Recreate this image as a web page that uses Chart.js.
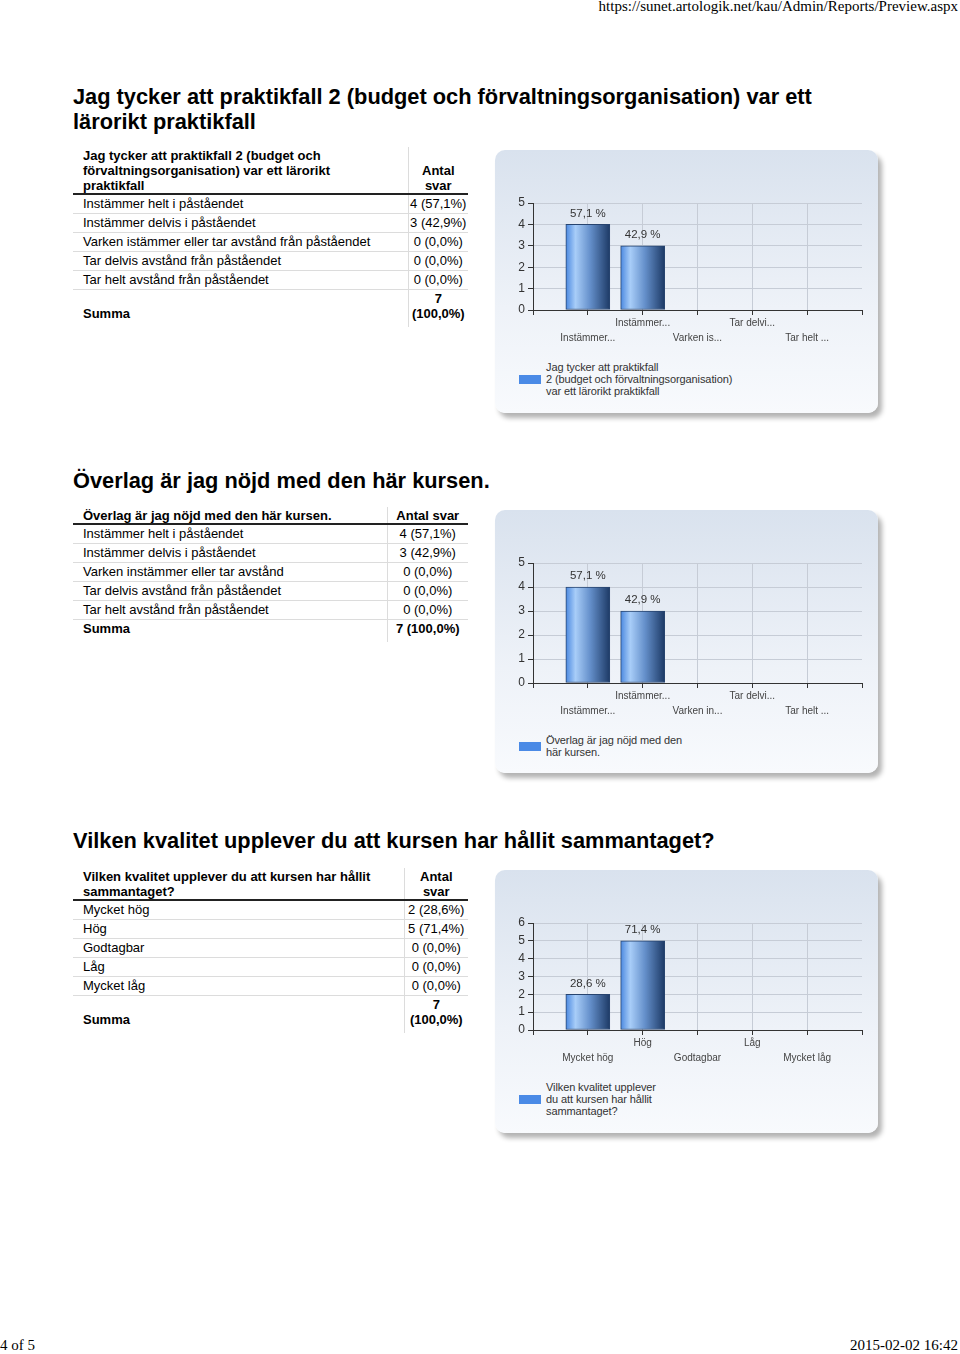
<!DOCTYPE html>
<html>
<head>
<meta charset="utf-8">
<script src="https://cdn.jsdelivr.net/npm/chart.js@4.4.0/dist/chart.umd.min.js"></script>
<style>
  body { margin: 0; width: 960px; height: 1354px; position: relative; overflow: hidden; background: #fff; font-family: "Liberation Sans", Arial, sans-serif; color: #000; }
  .serif { position: absolute; font: 15px/17px "Liberation Serif", "Times New Roman", serif; white-space: nowrap; }
  h2 { position: absolute; left: 73px; margin: 0; font-size: 21.8px; line-height: 25px; font-weight: bold; white-space: nowrap; }
  table { position: absolute; left: 73px; width: 395px; border-collapse: collapse; table-layout: fixed; font-size: 13px; line-height: 15px; }
  td { padding: 1px 0 2px 10px; border-bottom: 1px solid #dcdcdc; vertical-align: bottom; }
  td.c2 { padding: 1px 0 2px 0; text-align: center; border-left: 1px solid #dcdcdc; white-space: nowrap; }
  tr.head td { font-weight: bold; padding-top: 1px; padding-bottom: 0; padding-right: 30px; border-bottom: 2px solid #222; }
  tr.head td.c2 { padding: 1px 6px 0 6px; white-space: normal; }
  tr.sum td { font-weight: bold; border-bottom: none; padding-bottom: 6px; }
  tr.sum td.c2 { white-space: normal; padding-bottom: 6px; }
  .panel { position: absolute; left: 495px; width: 383px; height: 263px; border-radius: 10px;
           background: linear-gradient(#d9e2ee, #eef2f8 60%, #f8fafd); box-shadow: 4px 5px 5px rgba(0,0,0,0.3); }
  .panel canvas { position: absolute; left: 0; top: 0; }
  .legend { position: absolute; left: 24px; font-size: 11px; line-height: 12px; color: #333; letter-spacing: -0.1px; }
  .legend i { position: absolute; left: 0; width: 22px; height: 9px; background: #4a8ae6; }
  .legend span { position: absolute; left: 27px; white-space: nowrap; }
</style>
</head>
<body>
<div class="serif" style="right:2px;top:-2px">https://sunet.artologik.net/kau/Admin/Reports/Preview.aspx</div>
<div class="serif" style="left:0;top:1337px">4 of 5</div>
<div class="serif" style="right:2px;top:1337px">2015-02-02 16:42</div>

<h2 style="top:84px">Jag tycker att praktikfall 2 (budget och förvaltningsorganisation) var ett<br>lärorikt praktikfall</h2>
<table id="t1" style="top:147px"></table>
<div class="panel" id="p1" style="top:150px"><canvas id="c1"></canvas></div>

<h2 style="top:468px">Överlag är jag nöjd med den här kursen.</h2>
<table id="t2" style="top:507px"></table>
<div class="panel" id="p2" style="top:510px"><canvas id="c2"></canvas></div>

<h2 style="top:828px">Vilken kvalitet upplever du att kursen har hållit sammantaget?</h2>
<table id="t3" style="top:868px"></table>
<div class="panel" id="p3" style="top:870px"><canvas id="c3"></canvas></div>

<script>
// question 1
const q1Title = "Jag tycker att praktikfall 2 (budget och förvaltningsorganisation) var ett lärorikt praktikfall";
const q1Answers = ["Instämmer helt i påståendet", "Instämmer delvis i påståendet", "Varken istämmer eller tar avstånd från påståendet", "Tar delvis avstånd från påståendet", "Tar helt avstånd från påståendet"];
const q1Ticks = ["Instämmer...", "Instämmer...", "Varken is...", "Tar delvi...", "Tar helt ..."];
const q1Counts = [4, 3, 0, 0, 0];
const q1Percents = [57.1, 42.9, 0, 0, 0];
const q1Legend = ["Jag tycker att praktikfall", "2 (budget och förvaltningsorganisation)", "var ett lärorikt praktikfall"];
const q1YMax = 5;

// question 2
const q2Title = "Överlag är jag nöjd med den här kursen.";
const q2Answers = ["Instämmer helt i påståendet", "Instämmer delvis i påståendet", "Varken instämmer eller tar avstånd", "Tar delvis avstånd från påståendet", "Tar helt avstånd från påståendet"];
const q2Ticks = ["Instämmer...", "Instämmer...", "Varken in...", "Tar delvi...", "Tar helt ..."];
const q2Counts = [4, 3, 0, 0, 0];
const q2Percents = [57.1, 42.9, 0, 0, 0];
const q2Legend = ["Överlag är jag nöjd med den", "här kursen."];
const q2YMax = 5;

// question 3
const q3Title = "Vilken kvalitet upplever du att kursen har hållit sammantaget?";
const q3Answers = ["Mycket hög", "Hög", "Godtagbar", "Låg", "Mycket låg"];
const q3Ticks = ["Mycket hög", "Hög", "Godtagbar", "Låg", "Mycket låg"];
const q3Counts = [2, 5, 0, 0, 0];
const q3Percents = [28.6, 71.4, 0, 0, 0];
const q3Legend = ["Vilken kvalitet upplever", "du att kursen har hållit", "sammantaget?"];
const q3YMax = 6;

const fmt = (p) => p.toFixed(1).replace(".", ",");

function buildTable(id, title, answers, counts, percents, col1) {
  const total = counts.reduce((a, b) => a + b, 0);
  let html = `<colgroup><col style="width:${col1}px"><col></colgroup>`;
  html += `<tr class="head"><td>${title}</td><td class="c2">Antal svar</td></tr>`;
  answers.forEach((a, i) => {
    html += `<tr><td>${a}</td><td class="c2">${counts[i]} (${fmt(percents[i])}%)</td></tr>`;
  });
  html += `<tr class="sum"><td>Summa</td><td class="c2">${total} (100,0%)</td></tr>`;
  document.getElementById(id).innerHTML = html;
}

function buildLegend(panelId, lines, centerY) {
  const box = document.createElement("div");
  box.className = "legend";
  const top = centerY - lines.length * 6;
  box.style.top = top + "px";
  box.innerHTML = `<i style="top:${lines.length * 6 - 4}px"></i><span>${lines.join("<br>")}</span>`;
  document.getElementById(panelId).appendChild(box);
}

// draws "57,1 %" over each non-empty bar
const valueLabels = {
  id: "valueLabels",
  afterDatasetsDraw(chart) {
    const ctx = chart.ctx;
    const ds = chart.data.datasets[0];
    chart.getDatasetMeta(0).data.forEach((el, i) => {
      if (!ds.data[i]) return;
      ctx.save();
      ctx.font = "11.5px 'Liberation Sans', Arial, sans-serif";
      ctx.fillStyle = "#333";
      ctx.textAlign = "center";
      ctx.textBaseline = "middle";
      ctx.fillText(fmt(ds.pct[i]) + " %", el.x, el.y - 11);
      ctx.restore();
    });
  },
};

function barGradient(c) {
  const chart = c.chart;
  const x = chart.scales.x ? chart.scales.x.getPixelForValue(c.dataIndex) : NaN;
  if (!isFinite(x)) return "#5f8cc8";
  const g = chart.ctx.createLinearGradient(x - 22, 0, x + 22, 0);
  g.addColorStop(0, "#4a88e0");
  g.addColorStop(0.22, "#a8cdf8");
  g.addColorStop(0.55, "#6590cb");
  g.addColorStop(1, "#1d3a66");
  return g;
}

function makeChart(canvasId, ticks, counts, percents, yMax, plotBottom) {
  // blank slots at both ends give the full-category margin seen in the original
  const labels = [""].concat(ticks, [""]);
  const data = [null].concat(counts, [null]);
  const pct = [null].concat(percents, [null]);
  const canvas = document.getElementById(canvasId);
  canvas.width = 383;
  canvas.height = plotBottom + 40;
  Chart.defaults.font.family = "'Liberation Sans', Arial, sans-serif";
  return new Chart(canvas, {
    type: "bar",
    data: {
      labels: labels,
      datasets: [{
        data: data,
        pct: pct,
        backgroundColor: barGradient,
        borderColor: "#27446f",
        borderWidth: 1,
        borderSkipped: false,
        barThickness: 44,
      }],
    },
    options: {
      responsive: false,
      animation: false,
      devicePixelRatio: 1,
      layout: { padding: { top: 53, right: 16, left: 0, bottom: 0 } },
      plugins: { legend: { display: false }, tooltip: { enabled: false } },
      scales: {
        x: {
          offset: false,
          grid: {
            offset: false,
            color: (c) => (c.index === 0 || c.index === labels.length - 1 ? "rgba(0,0,0,0)" : "#c6ccd6"),
            tickColor: "#333",
            tickLength: 5,
          },
          border: { color: "#333" },
          ticks: {
            autoSkip: false,
            maxRotation: 0,
            minRotation: 0,
            padding: 1,
            color: "#444",
            font: { size: 10, lineHeight: 1.5 },
            callback: function (v, i) {
              const t = this.getLabelForValue(v);
              if (!t) return "";
              return i % 2 ? ["", t] : [t];
            },
          },
          afterFit: (s) => { s.height = 40; },
        },
        y: {
          min: 0,
          max: yMax,
          grid: { color: "#c6ccd6", tickColor: "#333", tickLength: 5 },
          border: { color: "#333" },
          ticks: { stepSize: 1, padding: 3, color: "#333", font: { size: 12 } },
          afterFit: (s) => { s.width = 38; },
        },
      },
    },
    plugins: [valueLabels],
  });
}

buildTable("t1", q1Title, q1Answers, q1Counts, q1Percents, 335);
buildTable("t2", q2Title, q2Answers, q2Counts, q2Percents, 314);
buildTable("t3", q3Title, q3Answers, q3Counts, q3Percents, 331);

makeChart("c1", q1Ticks, q1Counts, q1Percents, q1YMax, 160);
makeChart("c2", q2Ticks, q2Counts, q2Percents, q2YMax, 173);
makeChart("c3", q3Ticks, q3Counts, q3Percents, q3YMax, 160);

buildLegend("p1", q1Legend, 229);
buildLegend("p2", q2Legend, 236);
buildLegend("p3", q3Legend, 229);
</script>
</body>
</html>
